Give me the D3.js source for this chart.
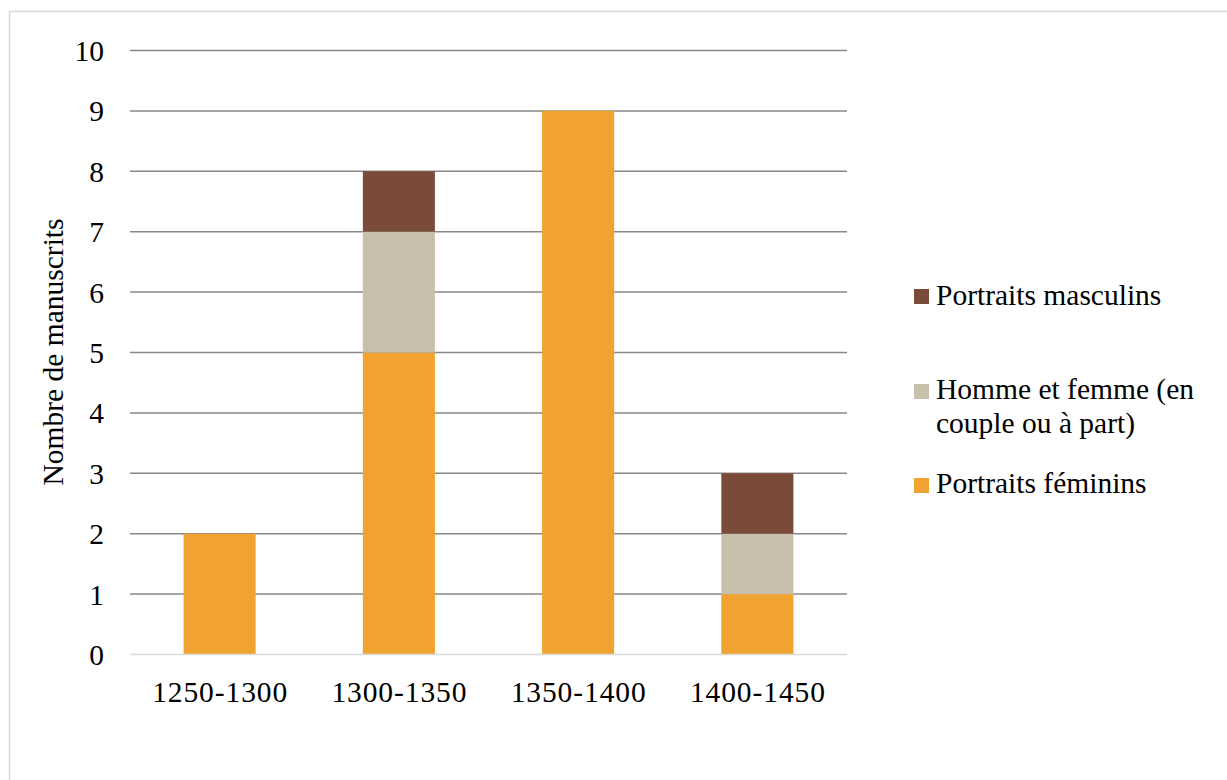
<!DOCTYPE html>
<html><head><meta charset="utf-8">
<script src="https://cdn.jsdelivr.net/npm/d3@7"></script>
<style>body{margin:0;background:#fff}svg{display:block}
svg text{font-family:"Liberation Serif","DejaVu Serif",serif;font-size:29.5px;fill:#000}</style>
</head><body>
<svg id="c" width="1227" height="780"></svg>
<script>
const categories = ["1250-1300","1300-1350","1350-1400","1400-1450"];
const feminins = [2,5,9,1];
const couple = [0,2,0,1];
const masculins = [0,1,0,1];
const yTicks = [0,1,2,3,4,5,6,7,8,9,10];
const seriesNames = ["Portraits féminins","Homme et femme (en couple ou à part)","Portraits masculins"];
const colors = ["#F0A330","#C7BFAC","#7B4B3A"];

const svg = d3.select("#c");
svg.append("rect").attr("x",9.5).attr("y",11.5).attr("width",1240).attr("height",800)
  .attr("fill","none").attr("stroke","#d9d9d9").attr("stroke-width",1.5);

const x = d3.scaleBand().domain(categories).range([130,847]).paddingInner(0.598).paddingOuter(0.299);
const y = d3.scaleLinear().domain([0,10]).range([654.5,50.5]);

// gridlines
svg.append("g").selectAll("line").data(yTicks.filter(t=>t>0)).join("line")
  .attr("x1",130).attr("x2",847).attr("y1",d=>y(d)).attr("y2",d=>y(d))
  .attr("stroke","#888").attr("stroke-width",1.5);

const data = categories.map((c,i)=>({cat:c, f:feminins[i], c:couple[i], m:masculins[i]}));
const stack = d3.stack().keys(["f","c","m"])(data);
svg.append("g").selectAll("g").data(stack).join("g").attr("fill",(d,i)=>colors[i])
  .selectAll("rect").data(d=>d).join("rect")
  .attr("x",d=>x(d.data.cat)).attr("width",x.bandwidth())
  .attr("y",d=>y(d[1])).attr("height",d=>y(d[0])-y(d[1]));

// baseline
svg.append("line").attr("x1",130).attr("x2",847).attr("y1",y(0)).attr("y2",y(0))
  .attr("stroke","#d9d9d9").attr("stroke-width",1.5);

// y axis labels
const ya = d3.axisLeft(y).tickValues(yTicks).tickSize(0).tickPadding(0);
const gy = svg.append("g").attr("transform","translate(104,0)").call(ya)
  .attr("font-family",null).attr("font-size",null);
gy.select(".domain").remove();
gy.selectAll("text").attr("dy","0.34em");

// x axis labels
const xa = d3.axisBottom(x).tickSize(0).tickPadding(0);
const gx = svg.append("g").attr("transform","translate(0,701.5)").call(xa)
  .attr("font-family",null).attr("font-size",null);
gx.select(".domain").remove();
gx.selectAll("text").attr("y",0).attr("dy",0).attr("x",0.5).attr("letter-spacing","0.9px");

// y title
svg.append("text").attr("transform","translate(63,352) rotate(-90)").attr("text-anchor","middle")
  .text("Nombre de manuscrits");

// legend
const legend = [
  {i:2, sy:289, lines:["Portraits masculins"], by:305},
  {i:1, sy:384, lines:["Homme et femme (en","couple ou à part)"], by:399},
  {i:0, sy:478, lines:["Portraits féminins"], by:493}
];
const lg = svg.append("g");
legend.forEach(l=>{
  lg.append("rect").attr("x",914).attr("y",l.sy).attr("width",15).attr("height",15).attr("fill",colors[l.i]);
  const t = lg.append("text");
  l.lines.forEach((s,k)=>t.append("tspan").attr("x",936).attr("y",l.by+k*34).text(s));
});
</script>
</body></html>
